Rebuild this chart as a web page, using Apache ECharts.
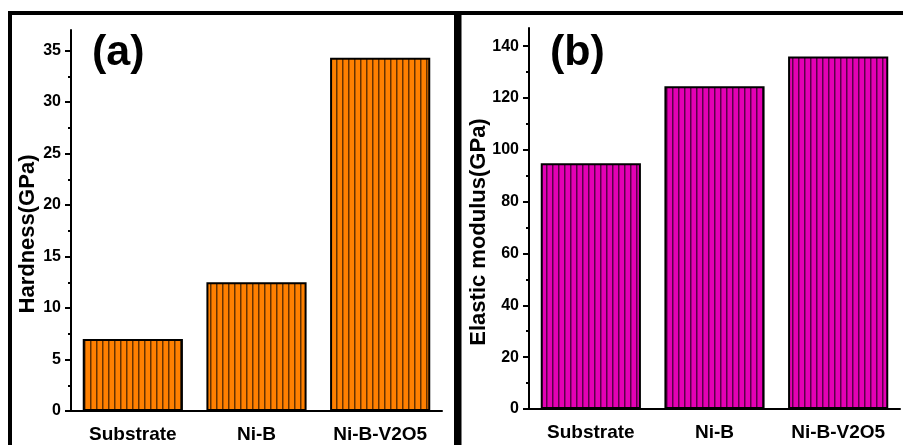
<!DOCTYPE html>
<html>
<head>
<meta charset="utf-8">
<script src="https://cdn.jsdelivr.net/npm/echarts@6/dist/echarts.min.js"></script>
<style>
html,body{margin:0;padding:0;background:#fff;}
#chart{width:903px;height:445px;}
</style>
</head>
<body>
<div id="chart"></div>
<script>
// ---- data ----
const categories = ['Substrate', 'Ni-B', 'Ni-B-V2O5'];
const hardness = [7.0, 12.5, 34.3];
const modulus = [94.8, 124.5, 136.0];
const hardnessTicks = [0, 5, 10, 15, 20, 25, 30, 35];
const hardnessMinor = [2.5, 7.5, 12.5, 17.5, 22.5, 27.5, 32.5];
const modulusTicks = [0, 20, 40, 60, 80, 100, 120, 140];
const modulusMinor = [10, 30, 50, 70, 90, 110, 130];
const hardnessTitle = 'Hardness(GPa)';
const modulusTitle = 'Elastic modulus(GPa)';

function stripe(fill) {
  const c = document.createElement('canvas');
  c.width = 6; c.height = 6;
  const g = c.getContext('2d');
  g.fillStyle = fill; g.fillRect(0, 0, 6, 6);
  g.fillStyle = 'rgba(0,0,0,0.6)'; g.fillRect(0, 0, 1.5, 6);
  return { image: c, repeat: 'repeat' };
}

function hasFont(name) {
  const g = document.createElement('canvas').getContext('2d');
  const s = 'Substrate Ni-B-V2O5 0123456789';
  g.font = 'bold 40px monospace';
  const a = g.measureText(s).width;
  g.font = 'bold 40px "' + name + '", monospace';
  const b = g.measureText(s).width;
  return Math.abs(a - b) > 0.5;
}

const wide = '"Liberation Sans", Arial, sans-serif';
let labelFont = wide, catSize = 19, tickSize = 16, catMargin = 14;
for (const n of ['Liberation Sans Narrow', 'Arial Narrow']) {
  if (hasFont(n)) { labelFont = '"' + n + '", sans-serif'; catSize = 21; tickSize = 17; catMargin = 13; break; }
}

const chart = echarts.init(document.getElementById('chart'), null, { renderer: 'canvas' });

function xAxes(gi) {
  return [
    {
      type: 'category', gridIndex: gi, data: categories, position: 'bottom',
      axisLine: { lineStyle: { color: '#000', width: 2 } },
      axisTick: { alignWithLabel: true, length: 6, lineStyle: { color: '#000', width: 2 } },
      axisLabel: { interval: 0, hideOverlap: false, color: '#000', fontFamily: labelFont, fontWeight: 'bold', fontSize: catSize, margin: catMargin }
    },
    {
      type: 'category', gridIndex: gi, data: categories, position: 'bottom',
      axisLine: { show: false },
      axisTick: { interval: 0, length: 4, lineStyle: { color: '#000', width: 2 } },
      axisLabel: { show: false }
    }
  ];
}
function yAxes(gi, max, major, minor) {
  return [
    {
      type: 'value', gridIndex: gi, min: 0, max: max, position: 'left',
      splitLine: { show: false },
      axisLine: { show: true, lineStyle: { color: '#000', width: 2 } },
      axisTick: { show: true, length: 6, customValues: major, lineStyle: { color: '#000', width: 2 } },
      axisLabel: { customValues: major, color: '#000', fontFamily: labelFont, fontWeight: 'bold', fontSize: tickSize, margin: 10 }
    },
    {
      type: 'value', gridIndex: gi, min: 0, max: max, position: 'left',
      splitLine: { show: false },
      axisLine: { show: false },
      axisTick: { show: true, length: 3, customValues: minor, lineStyle: { color: '#000', width: 2 } },
      axisLabel: { show: false }
    }
  ];
}

const option = {
  animation: false,
  backgroundColor: '#fff',
  grid: [
    { left: 71, right: 461, top: 30, bottom: 34 },
    { left: 529, right: 3, top: 28, bottom: 36 }
  ],
  xAxis: [...xAxes(0), ...xAxes(1)],
  yAxis: [...yAxes(0, 37, hardnessTicks, hardnessMinor), ...yAxes(1, 147, modulusTicks, modulusMinor)],
  series: [
    {
      type: 'bar', xAxisIndex: 0, yAxisIndex: 0, data: hardness, barWidth: '81%',
      itemStyle: { color: stripe('#FF8000'), borderColor: '#000', borderWidth: 2 }
    },
    {
      type: 'bar', xAxisIndex: 2, yAxisIndex: 2, data: modulus, barWidth: '81%',
      itemStyle: { color: stripe('#E400B4'), borderColor: '#000', borderWidth: 2 }
    }
  ],
  graphic: [
    { type: 'rect', shape: { x: 8, y: 11, width: 895, height: 4 }, style: { fill: '#000' } },
    { type: 'rect', shape: { x: 8, y: 11, width: 4, height: 434 }, style: { fill: '#000' } },
    { type: 'rect', shape: { x: 454, y: 11, width: 7.5, height: 434 }, style: { fill: '#000' } },
    { type: 'text', x: 92, y: 32, style: { text: '(a)', fontFamily: wide, fontWeight: 'bold', fontSize: 43, fill: '#000' } },
    { type: 'text', x: 550, y: 32, style: { text: '(b)', fontFamily: wide, fontWeight: 'bold', fontSize: 43, fill: '#000' } },
    { type: 'text', x: 28, y: 234, rotation: Math.PI / 2,
      style: { text: hardnessTitle, fontFamily: wide, fontWeight: 'bold', fontSize: 22, fill: '#000', align: 'center', verticalAlign: 'middle' } },
    { type: 'text', x: 479, y: 232, rotation: Math.PI / 2,
      style: { text: modulusTitle, fontFamily: wide, fontWeight: 'bold', fontSize: 22, fill: '#000', align: 'center', verticalAlign: 'middle' } }
  ]
};
chart.setOption(option);
</script>
</body>
</html>
